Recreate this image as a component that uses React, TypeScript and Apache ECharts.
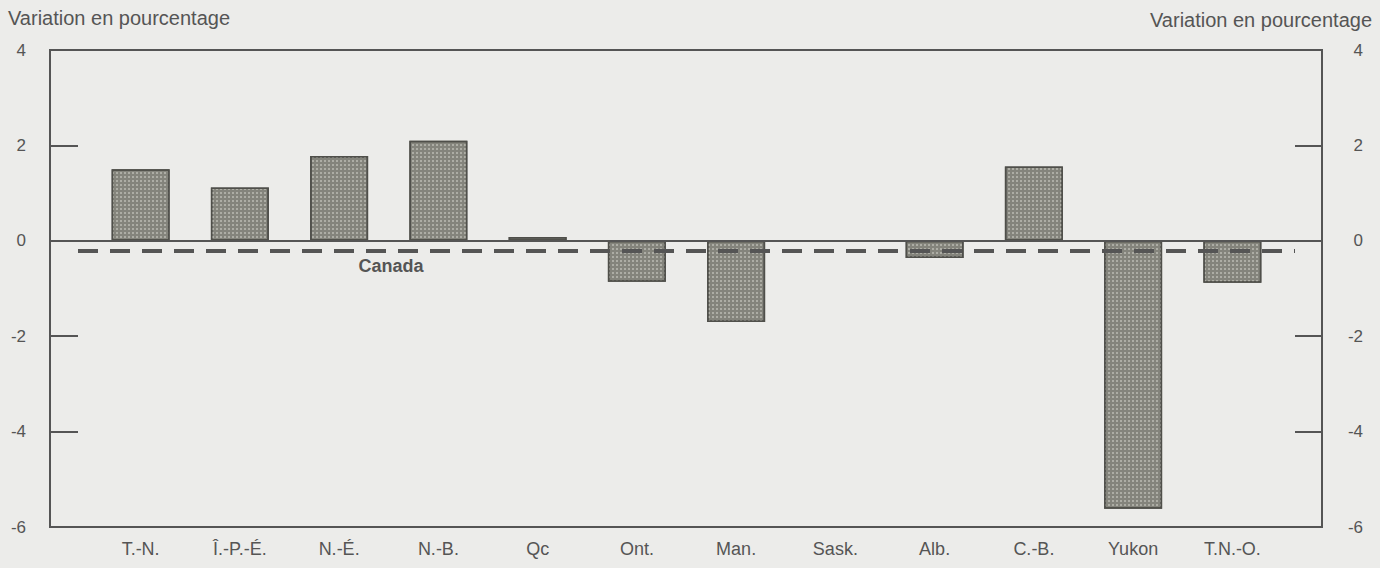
import React, { useEffect, useRef } from "react";
import * as echarts from "echarts";

const CATEGORIES = ["T.-N.", "Î.-P.-É.", "N.-É.", "N.-B.", "Qc", "Ont.", "Man.", "Sask.", "Alb.", "C.-B.", "Yukon", "T.N.-O."];
const VALUES = [1.5, 1.12, 1.78, 2.1, 0.08, -0.86, -1.7, 0, -0.36, 1.56, -5.62, -0.88];
const CANADA = -0.21;
const Y_TICKS = [-6, -4, -2, 0, 2, 4];
const AXIS_TITLE = "Variation en pourcentage";
const CANADA_LABEL = "Canada";

const FONT = "Liberation Sans, Arial, sans-serif";
const TEXT = "#555";
const LINE = "#555";

export default function App() {
  const ref = useRef<HTMLDivElement>(null);
  useEffect(() => {
    document.body.style.margin = "0";
    const chart = echarts.init(ref.current!, null, { renderer: "svg" });
    const yMin = Y_TICKS[0];
    const yMax = Y_TICKS[Y_TICKS.length - 1];
    const frameW = 1272;
    chart.setOption({
      animation: false,
      backgroundColor: "#ececea",
      textStyle: { fontFamily: FONT },
      title: [
        { text: AXIS_TITLE, left: 8, top: 8, padding: 0, textStyle: { fontSize: 20, fontWeight: "normal", color: TEXT, fontFamily: FONT } },
        { text: AXIS_TITLE, right: 8, top: 10, padding: 0, textStyle: { fontSize: 20, fontWeight: "normal", color: TEXT, fontFamily: FONT } },
      ],
      grid: [
        { left: 50, right: 58, top: 50, bottom: 41, show: true, borderColor: LINE, borderWidth: 2, backgroundColor: "transparent" },
        { left: 91, right: 98, top: 50, bottom: 41 },
      ],
      xAxis: [
        { type: "value", gridIndex: 0, min: 0, max: frameW, show: false },
        {
          type: "category",
          gridIndex: 1,
          data: CATEGORIES,
          axisLine: { show: false },
          axisTick: { show: false },
          axisLabel: { color: TEXT, fontSize: 18, margin: 13, fontFamily: FONT },
        },
      ],
      yAxis: [
        {
          type: "value", gridIndex: 0, position: "left", min: yMin, max: yMax, interval: 2,
          axisLine: { show: false },
          axisTick: { show: true, inside: true, length: 28, lineStyle: { color: LINE, width: 2 } },
          axisLabel: { color: TEXT, fontSize: 17, margin: 24, fontFamily: FONT },
          splitLine: { show: false },
        },
        {
          type: "value", gridIndex: 0, position: "right", min: yMin, max: yMax, interval: 2,
          axisLine: { show: false },
          axisTick: { show: true, inside: true, length: 27, lineStyle: { color: LINE, width: 2 } },
          axisLabel: { color: TEXT, fontSize: 17, margin: 41, align: "right", fontFamily: FONT },
          splitLine: { show: false },
        },
        { type: "value", gridIndex: 1, min: yMin, max: yMax, show: false },
      ],
      series: [
        {
          type: "bar",
          xAxisIndex: 1,
          yAxisIndex: 2,
          data: VALUES,
          barWidth: 58,
          z: 2,
          itemStyle: {
            color: "#84847c",
            borderColor: "#4f4f4a",
            borderWidth: 1.5,
            decal: {
              symbol: "rect",
              symbolSize: 1,
              dashArrayX: [2, 2],
              dashArrayY: [2, 2],
              color: "rgba(225,225,215,0.45)",
            },
          },
        },
        {
          type: "line",
          xAxisIndex: 0,
          yAxisIndex: 0,
          data: [],
          z: 3,
          markLine: {
            silent: true,
            symbol: "none",
            label: { show: false },
            data: [
              [
                { coord: [0, 0], lineStyle: { color: LINE, width: 2, type: "solid" } },
                { coord: [frameW, 0] },
              ],
              [
                { coord: [28, CANADA], lineStyle: { color: LINE, width: 4, type: [20, 12] } },
                { coord: [1245, CANADA] },
              ],
            ],
          },
          markPoint: {
            symbol: "circle",
            symbolSize: 0,
            data: [
              {
                coord: [341, CANADA],
                label: {
                  show: true,
                  formatter: CANADA_LABEL,
                  position: "bottom",
                  distance: 6,
                  color: TEXT,
                  fontWeight: "bold",
                  fontSize: 18,
                  fontFamily: FONT,
                },
              },
            ],
          },
        },
      ],
    });
    return () => chart.dispose();
  }, []);
  return <div ref={ref} style={{ width: 1380, height: 568 }} />;
}
